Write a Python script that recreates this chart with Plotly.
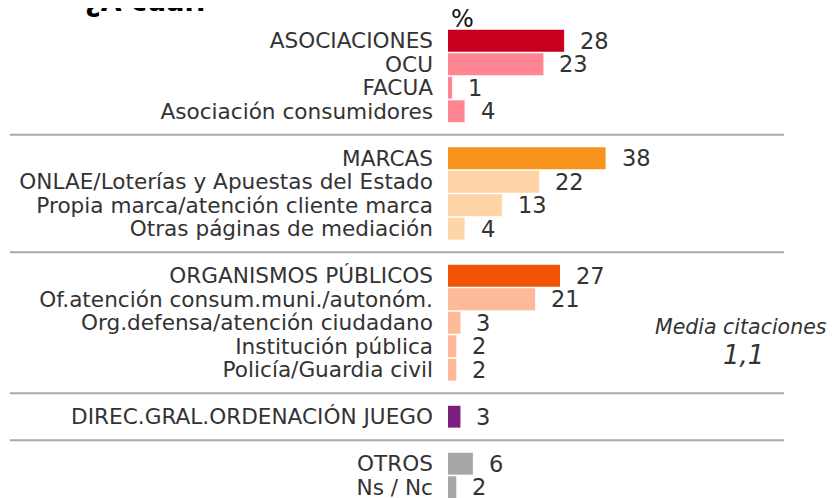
import plotly.graph_objects as go

# --- data (%) ---
asociaciones_labels = ["ASOCIACIONES", "OCU", "FACUA", "Asociación consumidores"]
asociaciones_values = [28, 23, 1, 4]

marcas_labels = ["MARCAS", "ONLAE/Loterías y Apuestas del Estado",
                 "Propia marca/atención cliente marca", "Otras páginas de mediación"]
marcas_values = [38, 22, 13, 4]

organismos_labels = ["ORGANISMOS PÚBLICOS", "Of.atención consum.muni./autonóm.",
                     "Org.defensa/atención ciudadano", "Institución pública",
                     "Policía/Guardia civil"]
organismos_values = [27, 21, 3, 2, 2]

direc_labels = ["DIREC.GRAL.ORDENACIÓN JUEGO"]
direc_values = [3]

otros_labels = ["OTROS", "Ns / Nc"]
otros_values = [6, 2]

media_citaciones = "1,1"

# (header colour, item colour) for each block
groups = [
    (asociaciones_labels, asociaciones_values, ("#C8001E", "#FF8593")),
    (marcas_labels, marcas_values, ("#F7941E", "#FDD5A7")),
    (organismos_labels, organismos_values, ("#F25206", "#FEB999")),
    (direc_labels, direc_values, ("#7B1F7E", "#7B1F7E")),
    (otros_labels, otros_values, ("#A6A6A6", "#A6A6A6")),
]

FONT = "Verdana, DejaVu Sans, sans-serif"
TEXT = "#333333"

labels, values, colors, pos, seps = [], [], [], [], []
slot = 0
for gi, (labs, vals, (head_col, item_col)) in enumerate(groups):
    for i, (lab, val) in enumerate(zip(labs, vals)):
        labels.append(lab)
        values.append(val)
        colors.append(head_col if i == 0 else item_col)
        pos.append(slot)
        slot += 1
    if gi < len(groups) - 1:
        seps.append(slot)
        slot += 1

fig = go.Figure(go.Bar(
    x=values, y=pos, orientation="h",
    marker=dict(color=colors, line=dict(width=0)),
    width=0.93, hoverinfo="skip",
))

# value labels to the right of each bar
for v, p in zip(values, pos):
    fig.add_annotation(x=v, y=p, text=str(v), showarrow=False,
                       xanchor="left", xshift=14,
                       font=dict(family=FONT, size=22.5, color=TEXT))

# separators between blocks
for s in seps:
    fig.add_shape(type="line", xref="paper", yref="y",
                  x0=-1.304, x1=1, y0=s, y1=s,
                  line=dict(color="#A8A8A8", width=2))

fig.add_annotation(x=0, y=1, xref="x", yref="paper", text="%",
                   showarrow=False, xanchor="left", yanchor="middle",
                   xshift=1, yshift=10,
                   font=dict(family=FONT, size=24, color="#111111"))

fig.add_annotation(x=0.872, y=12.18, xref="paper", yref="y",
                   text="<i>Media citaciones</i>", showarrow=False,
                   xanchor="center",
                   font=dict(family=FONT, size=20.5, color=TEXT))
fig.add_annotation(x=0.88, y=13.37, xref="paper", yref="y",
                   text="<i>" + media_citaciones + "</i>", showarrow=False,
                   xanchor="center",
                   font=dict(family=FONT, size=26, color=TEXT))

fig.update_layout(
    width=835, height=498,
    margin=dict(l=440, r=59, t=21, b=0),
    paper_bgcolor="white", plot_bgcolor="white",
    showlegend=False,
    title=dict(text="<b>¿A cuál?</b>", x=0.0922, xanchor="left",
               y=0.995, yanchor="bottom",
               font=dict(family=FONT, size=27, color="#000000")),
    xaxis=dict(visible=False, range=[0, 81]),
    yaxis=dict(range=[19.8, -0.5], tickvals=pos, ticktext=labels,
               showgrid=False, zeroline=False, showline=False, ticks="",
               ticklabelstandoff=14,
               tickfont=dict(family=FONT, size=21.6, color=TEXT)),
)

fig.write_html("out.html")
